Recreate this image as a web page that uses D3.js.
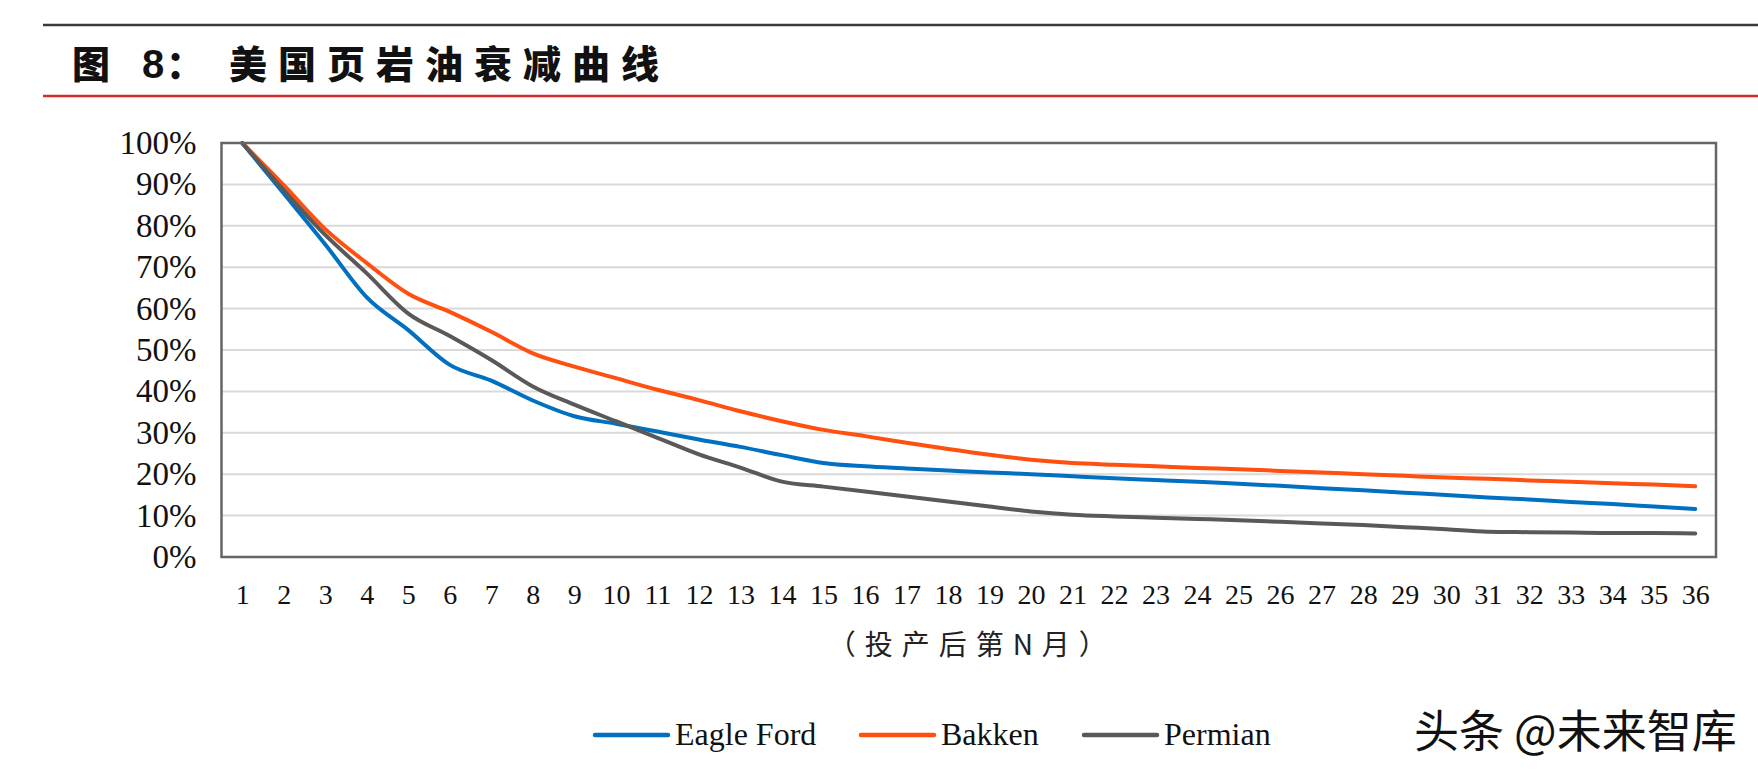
<!DOCTYPE html>
<html>
<head>
<meta charset="utf-8">
<script src="https://cdn.jsdelivr.net/npm/d3@7"></script>
<style>
  html, body { margin: 0; padding: 0; background: #fff; }
  svg { display: block; }
</style>
</head>
<body>
<svg id="chart" width="1758" height="772"></svg>
<script>
// ---------- data ----------
const months = d3.range(1, 37).map(String);
const yTicks = [0, 0.1, 0.2, 0.3, 0.4, 0.5, 0.6, 0.7, 0.8, 0.9, 1.0];
const seriesNames = ["Eagle Ford", "Bakken", "Permian"];
const seriesColors = ["#0070c0", "#ff5010", "#595959"];
const eagleFord = [100, 87.8, 75.5, 62.7, 54.8, 46.4, 42.6, 37.8, 34.0, 32.2, 30.3, 28.4,
  26.6, 24.6, 22.7, 21.9, 21.4, 20.9, 20.4, 20.0, 19.5, 19.0, 18.6, 18.2,
  17.7, 17.2, 16.6, 16.1, 15.5, 15.0, 14.4, 13.9, 13.3, 12.8, 12.2, 11.6];
const bakken = [100, 89.8, 79.2, 71.0, 63.6, 59.2, 54.4, 49.2, 46.0, 43.2, 40.4, 37.9,
  35.2, 32.8, 30.7, 29.2, 27.6, 26.1, 24.7, 23.5, 22.7, 22.3, 21.9, 21.5,
  21.2, 20.8, 20.4, 20.0, 19.6, 19.2, 18.9, 18.5, 18.2, 17.8, 17.5, 17.1];
const permian = [100, 88.6, 77.8, 68.5, 58.8, 53.4, 47.6, 41.2, 36.8, 32.8, 28.8, 24.8,
  21.6, 18.2, 17.0, 15.8, 14.6, 13.4, 12.2, 11.0, 10.2, 9.8, 9.5, 9.2,
  8.9, 8.5, 8.1, 7.7, 7.2, 6.7, 6.1, 6.0, 5.9, 5.8, 5.8, 5.7];
const seriesValues = [eagleFord, bakken, permian];
const titleParts = ["图", "8：", "美国页岩油衰减曲线"];
const xTitle = "（投产后第N月）";
const watermark = "头条 @未来智库";

// ---------- layout ----------
const svg = d3.select("#chart");
const W = 1758, H = 772;
const plot = { left: 221.5, right: 1716, top: 143, bottom: 557 };

svg.append("rect").attr("width", W).attr("height", H).attr("fill", "#fff");

// header rules
svg.append("line").attr("x1", 43).attr("x2", W).attr("y1", 25).attr("y2", 25)
  .attr("stroke", "#3a3a3a").attr("stroke-width", 2.5);
svg.append("line").attr("x1", 43).attr("x2", W).attr("y1", 96).attr("y2", 96)
  .attr("stroke", "#d42a2a").attr("stroke-width", 2.5);

// title
const title = svg.append("text")
  .attr("y", 78)
  .attr("font-family", "'Noto Sans CJK SC', sans-serif")
  .attr("font-weight", 900)
  .attr("font-size", 38)
  .attr("fill", "#111");
title.append("tspan").attr("x", 72).text("图");
title.append("tspan").attr("x", 142).attr("font-family", "'Liberation Sans', Arial, sans-serif").attr("font-weight", 700).text("8").attr("font-size", 40);
title.append("tspan").attr("x", 166).text("：");
title.append("tspan").attr("x", 229).attr("letter-spacing", 11).text(titleParts[2]);

// scales
const x = d3.scalePoint().domain(months).range([plot.left, plot.right]).padding(0.5);
const y = d3.scaleLinear().domain([0, 1]).range([plot.bottom, plot.top]);

// gridlines
svg.append("g")
  .selectAll("line")
  .data(yTicks.filter(d => d > 0 && d < 1))
  .join("line")
  .attr("x1", plot.left).attr("x2", plot.right)
  .attr("y1", d => y(d)).attr("y2", d => y(d))
  .attr("stroke", "#d9d9d9").attr("stroke-width", 2);

// y axis labels
const yAxis = svg.append("g")
  .attr("transform", `translate(${plot.left},0)`)
  .call(d3.axisLeft(y).tickValues(yTicks).tickFormat(d3.format(".0%")).tickSize(0).tickPadding(25));
yAxis.select(".domain").remove();
yAxis.selectAll("text")
  .attr("font-family", "'Liberation Serif', 'Times New Roman', serif")
  .attr("font-size", 33).attr("fill", "#111");

// x axis labels
const xAxis = svg.append("g")
  .attr("transform", `translate(0,${plot.bottom})`)
  .call(d3.axisBottom(x).tickSize(0).tickPadding(27));
xAxis.select(".domain").remove();
xAxis.selectAll("text")
  .attr("font-family", "'Liberation Serif', 'Times New Roman', serif")
  .attr("font-size", 28).attr("fill", "#111");

// lines
const lineGen = d3.line()
  .x((d, i) => x(months[i]))
  .y(d => y(d / 100))
  .curve(d3.curveMonotoneX);

svg.append("g").selectAll("path")
  .data(seriesValues)
  .join("path")
  .attr("d", d => lineGen(d))
  .attr("fill", "none")
  .attr("stroke", (d, i) => seriesColors[i])
  .attr("stroke-width", 4)
  .attr("stroke-linejoin", "round")
  .attr("stroke-linecap", "round");

// plot border (drawn on top)
svg.append("rect")
  .attr("x", plot.left).attr("y", plot.top)
  .attr("width", plot.right - plot.left).attr("height", plot.bottom - plot.top)
  .attr("fill", "none").attr("stroke", "#666").attr("stroke-width", 2.5);

// x axis title
svg.append("text")
  .attr("x", (plot.left + plot.right) / 2 + 3).attr("y", 655)
  .attr("text-anchor", "middle")
  .attr("font-family", "'Noto Sans CJK SC', sans-serif")
  .attr("font-size", 28)
  .attr("letter-spacing", 9)
  .attr("fill", "#222")
  .text(xTitle);

// legend
const legendX = [595, 861, 1084];
const legend = svg.append("g").selectAll("g")
  .data(seriesNames)
  .join("g")
  .attr("transform", (d, i) => `translate(${legendX[i]},735)`);
legend.append("line")
  .attr("x1", 0).attr("x2", 73).attr("y1", 0).attr("y2", 0)
  .attr("stroke", (d, i) => seriesColors[i]).attr("stroke-width", 4.5)
  .attr("stroke-linecap", "round");
legend.append("text")
  .attr("x", 80).attr("y", 10)
  .attr("font-family", "'Liberation Serif', 'Times New Roman', serif")
  .attr("font-size", 32).attr("fill", "#111")
  .text(d => d);

// watermark
svg.append("text")
  .attr("x", 1414).attr("y", 748)
  .attr("font-family", "'Noto Sans CJK SC', sans-serif")
  .attr("font-size", 45)
  .attr("fill", "#111")
  .attr("stroke", "#fff").attr("stroke-width", 1)
  .attr("paint-order", "stroke")
  .text(watermark);
</script>
</body>
</html>
